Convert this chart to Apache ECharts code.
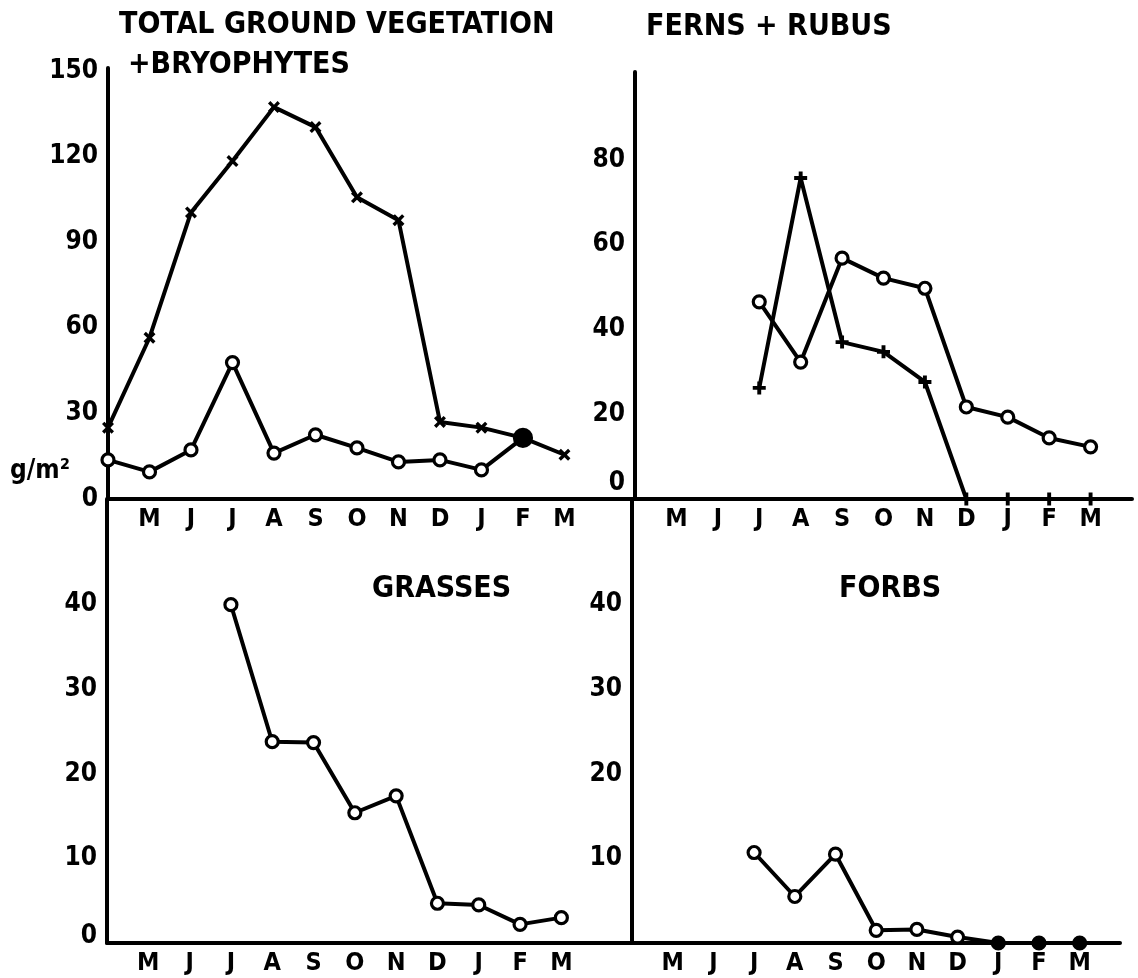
<!DOCTYPE html>
<html><head><meta charset="utf-8">
<script src="https://cdn.jsdelivr.net/npm/echarts@6/dist/echarts.min.js"></script>
<style>html,body{margin:0;padding:0;background:#fff}#c{width:1138px;height:978px}</style>
</head><body><div id="c"></div>
<script>
// month index 0 = April (at the y axis, unlabeled), 11 = March
const monthLabels = ['', 'M', 'J', 'J', 'A', 'S', 'O', 'N', 'D', 'J', 'F', 'M'];

// TOTAL GROUND VEGETATION + BRYOPHYTES (g/m2)
const totalCross  = [25, 56.5, 100.4, 118.4, 137.3, 130.3, 105.7, 97.7, 27, 25, 21.4, 15.5];
const totalCircle = [13.7, 9.5, 17.2, 47.8, 16.1, 22.5, 17.9, 13, 13.7, 10.2, 21.4, null];
// FERNS + RUBUS
const fernsPlus   = [null, null, null, 26.2, 75.7, 37, 34.7, 27.6, 0, 0, 0, 0];
const fernsCircle = [null, null, null, 46.5, 32.3, 56.8, 52.1, 49.7, 21.7, 19.3, 14.4, 12.3];
// GRASSES
const grasses     = [null, null, null, 40, 23.8, 23.7, 15.4, 17.4, 4.7, 4.5, 2.2, 3.0];
// FORBS
const forbs       = [null, null, null, 10.7, 5.5, 10.5, 1.5, 1.6, 0.7, 0, 0, 0];

// tick labels shown on each y axis
const tlTicks = [0, 30, 60, 90, 120, 150];
const trTicks = [0, 20, 40, 60, 80];
const blTicks = [0, 10, 20, 30, 40];
const brTicks = [10, 20, 30, 40];

const FONT = "'Liberation Sans Narrow','DejaVu Sans Condensed','Roboto Condensed','Liberation Sans',sans-serif";
const BLACK = '#000';

const crossPath = 'path://M0,2 L2,0 L5,3 L8,0 L10,2 L7,5 L10,8 L8,10 L5,7 L2,10 L0,8 L3,5 Z';
const plusPath = 'path://M3.5,0 H6.5 V3.5 H10 V6.5 H6.5 V10 H3.5 V6.5 H0 V3.5 H3.5 Z';

function pairs(arr, special) {
  const out = [];
  arr.forEach((v, i) => {
    if (v === null || v === undefined) return;
    const item = { value: [i, v] };
    if (special && special(v, i)) {
      item.symbol = 'circle';
      item.symbolSize = special(v, i);
      item.itemStyle = { color: BLACK, borderColor: BLACK };
    }
    out.push(item);
  });
  return out;
}

function xAxis(idx, max) {
  return {
    gridIndex: idx, type: 'value', min: 0, max: max, interval: 1,
    axisLine: { show: true, onZero: false, lineStyle: { color: BLACK, width: 4 } },
    axisTick: { show: false }, splitLine: { show: false },
    axisLabel: {
      color: BLACK, fontFamily: FONT, fontWeight: 'bold', fontSize: 25, margin: 8,
      showMaxLabel: true, hideOverlap: false,
      formatter: v => (Number.isInteger(v) && monthLabels[v] !== undefined) ? monthLabels[v] : ''
    }
  };
}

function yAxis(idx, max, interval, ticks, zeroRaise) {
  return {
    gridIndex: idx, type: 'value', min: 0, max: max, interval: interval,
    axisLine: { show: true, onZero: false, lineStyle: { color: BLACK, width: 4 } },
    axisTick: { show: false }, splitLine: { show: false },
    axisLabel: {
      color: BLACK, fontFamily: FONT, fontWeight: 'bold', fontSize: 26, margin: 10,
      showMaxLabel: true, hideOverlap: false,
      formatter: v => {
        if (ticks.indexOf(v) < 0) return '';
        if (v === 0 && zeroRaise) return '{z|0}';
        return String(v);
      },
      rich: { z: { fontFamily: FONT, fontWeight: 'bold', fontSize: 26, color: BLACK, padding: [0, 0, zeroRaise || 0, 0] } }
    }
  };
}

const lineBase = {
  type: 'line', smooth: false, connectNulls: false,
  lineStyle: { color: BLACK, width: 4 },
  emphasis: { disabled: true }, animation: false, z: 3
};
const circleStyle = { symbol: 'circle', symbolSize: 12, itemStyle: { color: '#fff', borderColor: BLACK, borderWidth: 3.2 } };
const crossStyle = { symbol: crossPath, symbolSize: 12, itemStyle: { color: BLACK } };
const plusStyle = { symbol: plusPath, symbolSize: 13, itemStyle: { color: BLACK } };

const joinSpecial = (v, i) => (totalCross[i] === totalCircle[i] ? 17 : 0);
const zeroFilled = (v) => (v === 0 ? 12 : 0);

const titleText = (text, left, top, size) => ({
  text: text, left: left, top: top, padding: 0,
  textStyle: { color: BLACK, fontFamily: FONT, fontWeight: 'bold', fontSize: size || 30 }
});

const option = {
  backgroundColor: '#fff',
  animation: false,
  title: [
    titleText('TOTAL GROUND VEGETATION', 119, 10),
    titleText('+BRYOPHYTES', 128, 50),
    titleText('FERNS + RUBUS', 646, 12),
    titleText('GRASSES', 372, 574),
    titleText('FORBS', 839, 574),
    { text: 'g/m²', left: 10, top: 458, padding: 0,
      textStyle: { color: BLACK, fontFamily: FONT, fontWeight: 'bold', fontSize: 26 } }
  ],
  grid: [
    { left: 108, top: 68, width: 527, height: 431 },
    { left: 635, top: 72, width: 497, height: 427 },
    { left: 107, top: 499, width: 525, height: 444 },
    { left: 632, top: 499, width: 488, height: 444 }
  ],
  xAxis: [ xAxis(0, 12.7), xAxis(1, 12.0), xAxis(2, 12.71), xAxis(3, 11.99) ],
  yAxis: [
    yAxis(0, 151, 30, tlTicks, 0),
    yAxis(1, 100.7, 20, trTicks, 32),
    yAxis(2, 52.5, 10, blTicks, 14),
    yAxis(3, 52.5, 10, brTicks, 0)
  ],
  series: [
    Object.assign({}, lineBase, crossStyle, { name: 'total', xAxisIndex: 0, yAxisIndex: 0, data: pairs(totalCross, joinSpecial) }),
    Object.assign({}, lineBase, circleStyle, { name: 'total2', xAxisIndex: 0, yAxisIndex: 0, data: pairs(totalCircle, joinSpecial) }),
    Object.assign({}, lineBase, plusStyle, { name: 'ferns', xAxisIndex: 1, yAxisIndex: 1, data: pairs(fernsPlus) }),
    Object.assign({}, lineBase, circleStyle, { name: 'rubus', xAxisIndex: 1, yAxisIndex: 1, data: pairs(fernsCircle) }),
    Object.assign({}, lineBase, circleStyle, { name: 'grasses', xAxisIndex: 2, yAxisIndex: 2, data: pairs(grasses) }),
    Object.assign({}, lineBase, circleStyle, { name: 'forbs', xAxisIndex: 3, yAxisIndex: 3, data: pairs(forbs, zeroFilled) })
  ]
};

const chart = echarts.init(document.getElementById('c'), null, { renderer: 'canvas' });
chart.setOption(option);
</script>
</body></html>
